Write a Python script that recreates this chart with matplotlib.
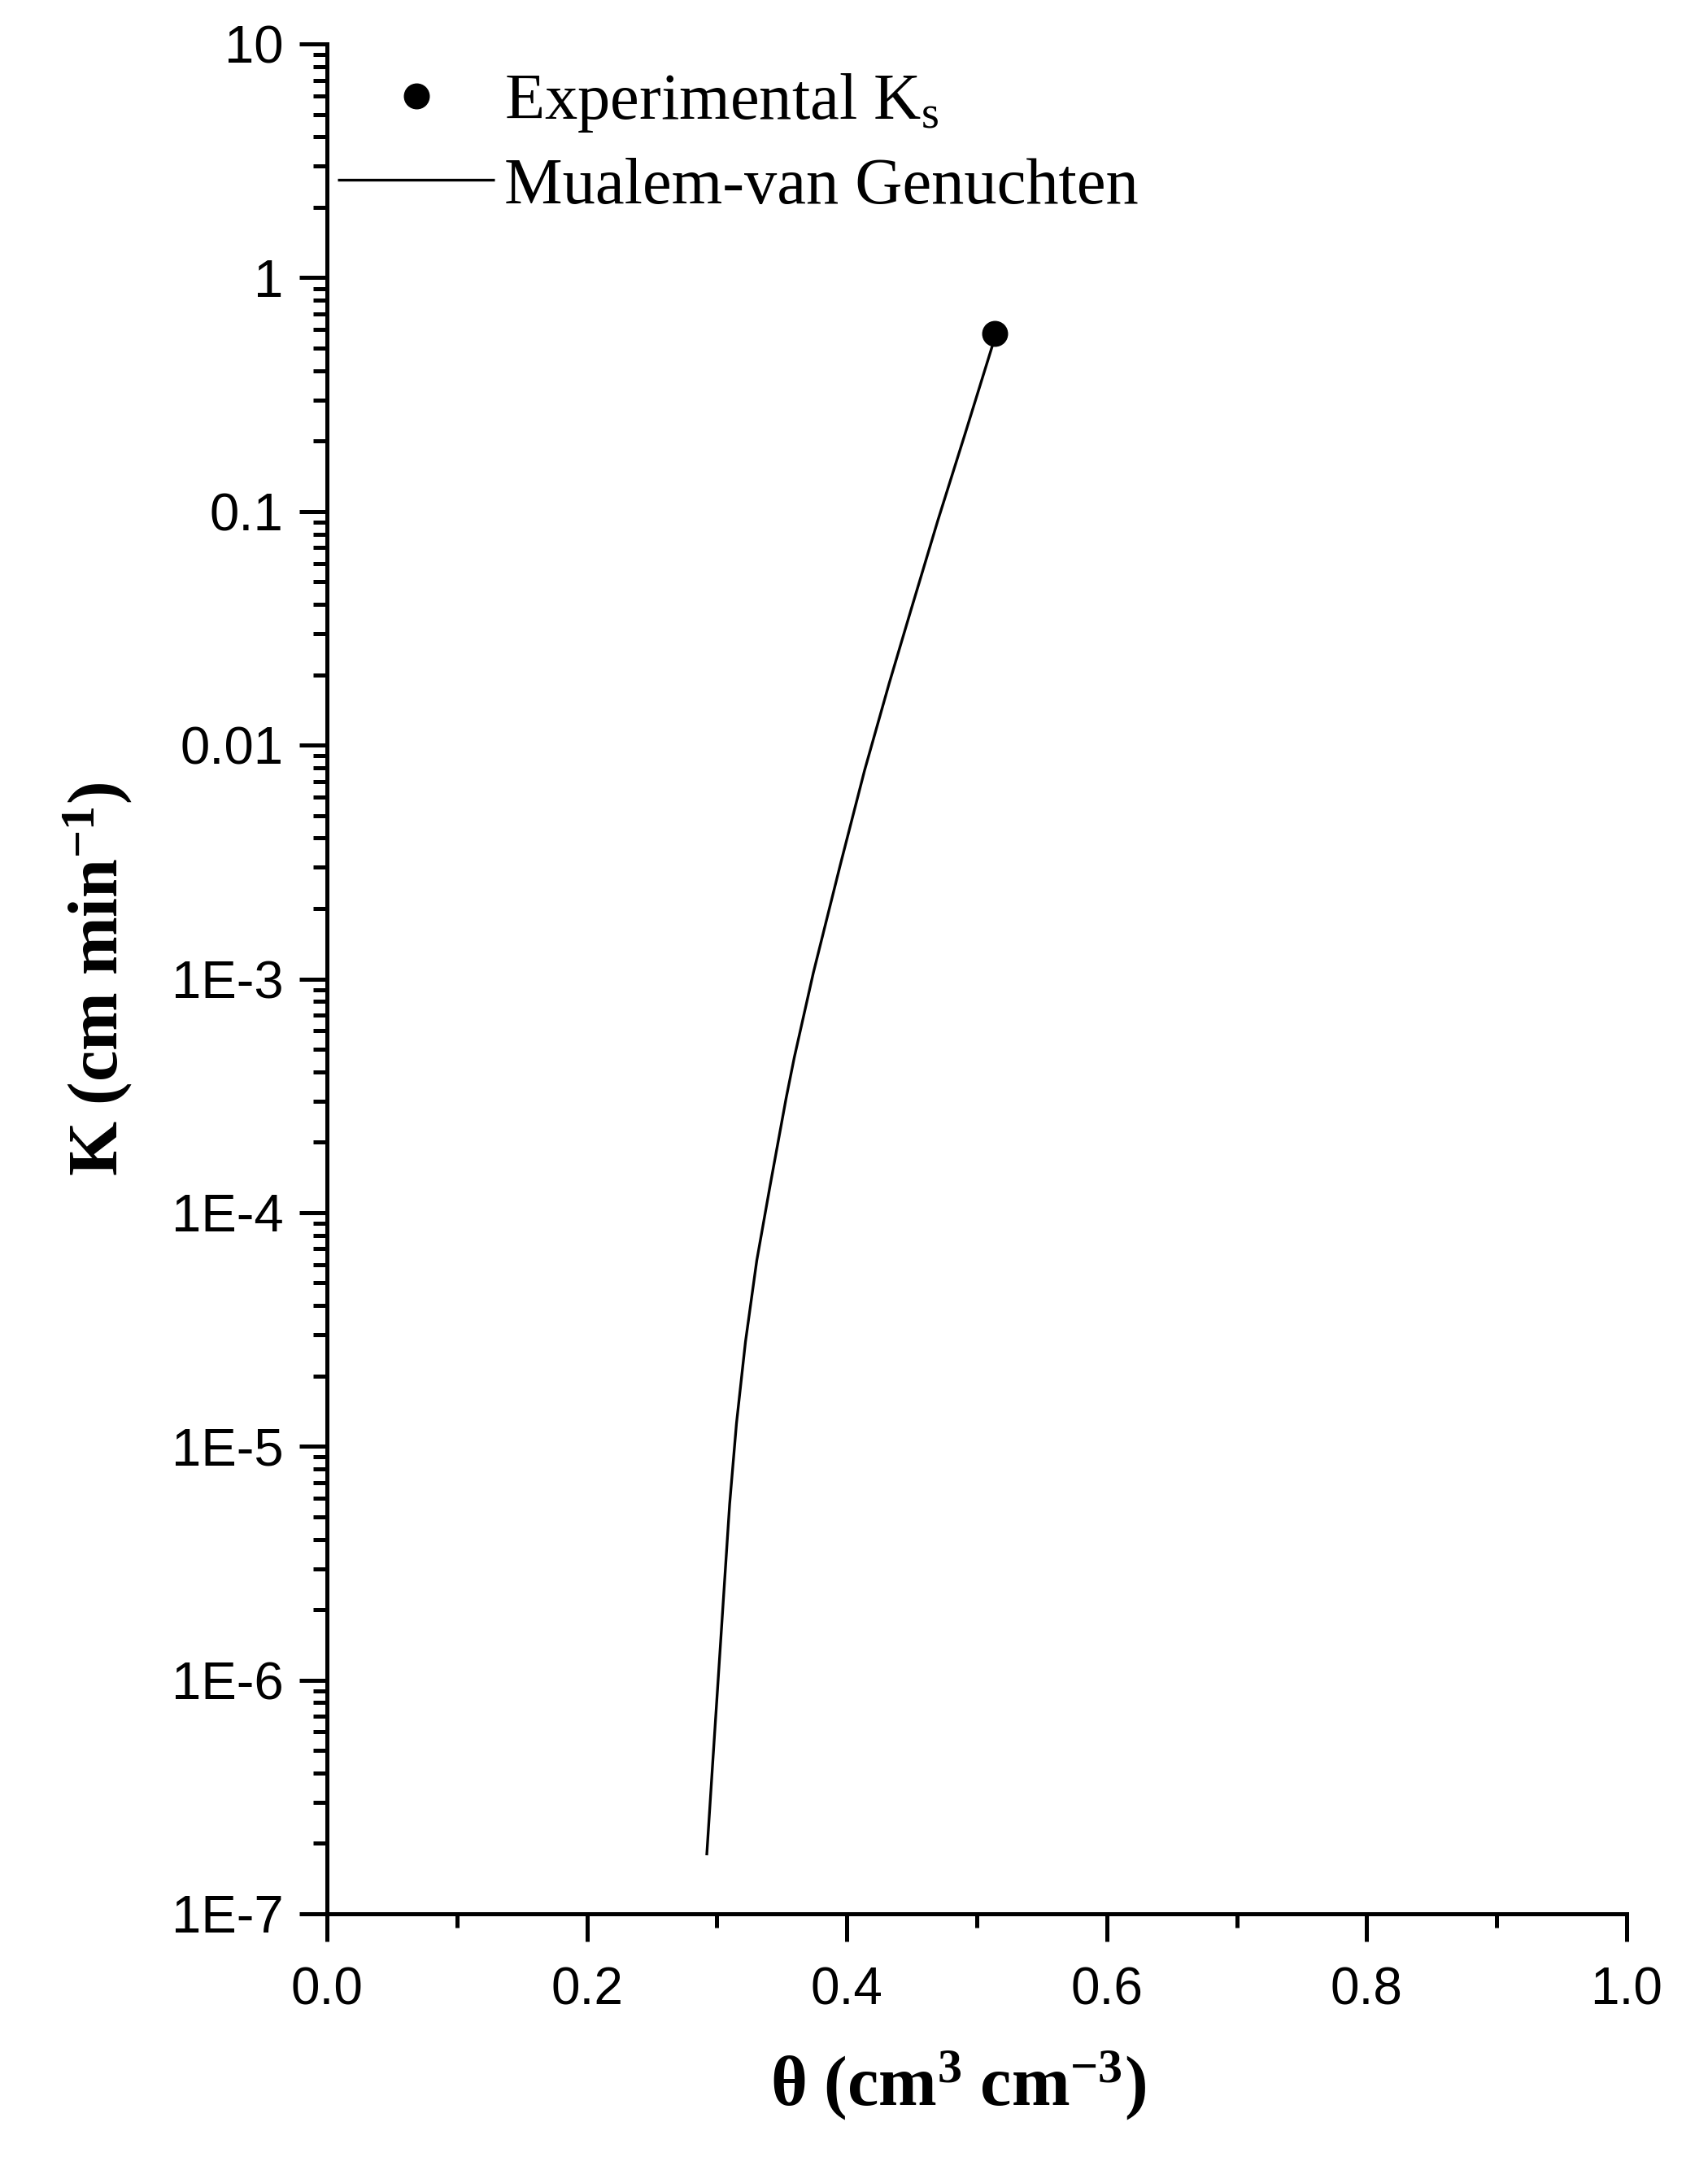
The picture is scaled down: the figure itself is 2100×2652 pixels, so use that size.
import matplotlib
matplotlib.use('Agg')
import matplotlib.pyplot as plt
from matplotlib import font_manager
from matplotlib.ticker import FixedLocator, FixedFormatter, LogLocator, NullFormatter

# ---- data ----
theta_fit = [0.2922, 0.2971, 0.3012, 0.3057, 0.3098, 0.3151, 0.3220, 0.3307,
             0.3409, 0.3533, 0.3596, 0.3742, 0.3950, 0.4137, 0.4326, 0.4493,
             0.4700, 0.4910, 0.5120, 0.5136]
K_fit = [1.78e-7, 4.70e-7, 1.047e-6, 2.53e-6, 5.64e-6, 1.256e-5, 2.80e-5, 6.24e-5,
         1.30e-4, 3.09e-4, 4.62e-4, 1.06e-3, 3.08e-3, 7.82e-3, 1.84e-2, 3.78e-2,
         9.14e-2, 0.215, 0.512, 0.577]
theta_exp = [0.5136]
K_exp = [0.577]

x_ticks = [0.0, 0.2, 0.4, 0.6, 0.8, 1.0]
x_tick_labels = ['0.0', '0.2', '0.4', '0.6', '0.8', '1.0']
y_ticks = [1e-7, 1e-6, 1e-5, 1e-4, 1e-3, 1e-2, 1e-1, 1, 10]
y_tick_labels = ['1E-7', '1E-6', '1E-5', '1E-4', '1E-3', '0.01', '0.1', '1', '10']

plt.rcParams['mathtext.fontset'] = 'custom'
plt.rcParams['mathtext.rm'] = 'Liberation Serif'
plt.rcParams['mathtext.it'] = 'Liberation Serif:italic'
plt.rcParams['mathtext.bf'] = 'Liberation Serif:bold'

installed = {f.name for f in font_manager.fontManager.ttflist}
narrow = 'Liberation Sans Narrow' if 'Liberation Sans Narrow' in installed else 'Liberation Sans'

W, H = 2100, 2652
fig = plt.figure(figsize=(W / 100, H / 100), dpi=100)
ax = fig.add_axes([402 / W, 1 - 2353 / H, (2000 - 402) / W, (2353 - 54) / H])

line, = ax.plot(theta_fit, K_fit, color='black', lw=2.4, solid_capstyle='butt',
                solid_joinstyle='round', label='Mualem-van Genuchten')
pt, = ax.plot(theta_exp, K_exp, 'o', color='black', ms=22, zorder=5,
              label='Experimental K$_{\\mathrm{s}}$')

ax.set_yscale('log')
ax.set_xlim(0, 1)
ax.set_ylim(1e-7, 10)

ax.xaxis.set_major_locator(FixedLocator(x_ticks))
ax.xaxis.set_major_formatter(FixedFormatter(x_tick_labels))
ax.xaxis.set_minor_locator(FixedLocator([0.1, 0.3, 0.5, 0.7, 0.9]))
ax.yaxis.set_major_locator(FixedLocator(y_ticks))
ax.yaxis.set_major_formatter(FixedFormatter(y_tick_labels))
ax.yaxis.set_minor_locator(LogLocator(base=10, subs=range(2, 10), numticks=50))
ax.yaxis.set_minor_formatter(NullFormatter())

for s in ['top', 'right']:
    ax.spines[s].set_visible(False)
for s in ['left', 'bottom']:
    ax.spines[s].set_linewidth(3.6)

ax.tick_params(which='major', direction='out', length=24.5, width=3.6)
ax.tick_params(which='minor', direction='out', length=12, width=3.6)
ax.tick_params(axis='x', which='major', pad=22, labelsize=50 if narrow != 'Liberation Sans' else 46)
ax.tick_params(axis='y', which='major', pad=14, labelsize=47)
for lab in ax.get_xticklabels():
    lab.set_fontfamily([narrow, 'DejaVu Sans'])
for lab in ax.get_yticklabels():
    lab.set_fontfamily(['Liberation Sans', 'DejaVu Sans'])

ax.set_ylabel(r'$\mathbf{K\ (cm\ min^{-1})}$', fontsize=62)
ax.yaxis.set_label_coords((165 - 402) / (2000 - 402), 0.5)
ax.set_xlabel(r'$\mathbf{θ\ (cm^{3}\ cm^{-3})}$', fontsize=62)
ax.xaxis.set_label_coords((1178 - 402) / (2000 - 402), -(2518 - 2353) / (2353 - 54))

leg = ax.legend([pt, line], [pt.get_label(), line.get_label()],
                loc='upper left', bbox_to_anchor=(415 / W, 1 - 88 / H),
                bbox_transform=fig.transFigure, frameon=False,
                handlelength=2.4, handletextpad=0.15, borderpad=0,
                borderaxespad=0, labelspacing=0.35,
                prop={'family': 'Liberation Serif', 'size': 58})

fig.savefig('out.png', dpi=100, facecolor='white')
